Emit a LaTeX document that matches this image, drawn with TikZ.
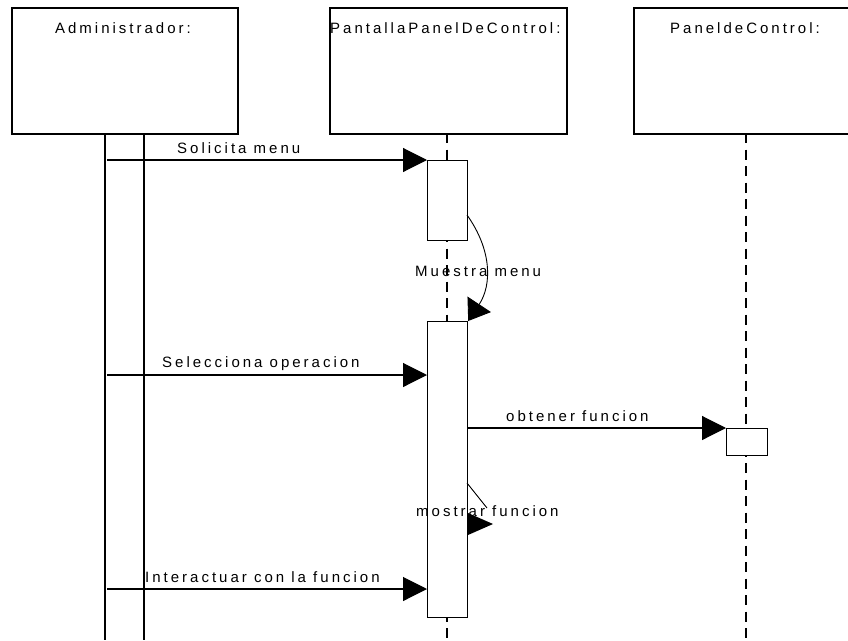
\documentclass[tikz,border=0pt]{standalone}
\usepackage{fontspec}
\setmainfont[LetterSpace=20]{Liberation Sans}
\usetikzlibrary{arrows.meta}
\begin{document}
\begin{tikzpicture}[x=1pt,y=-1pt,
  txt/.style={inner sep=0pt,font=\fontsize{15}{17}\selectfont},
  actor/.style={draw,line width=1.5pt,fill=white,inner sep=0pt,anchor=north west},
  activation/.style={draw,line width=1.2pt,fill=white,inner sep=0pt,anchor=north west},
  lifeline/.style={line width=1.2pt,dash pattern=on 10pt off 6.5pt},
  rail/.style={line width=1.4pt},
  msg/.style={line width=1.1pt,-{Triangle[length=24pt,width=24pt]}},
  selfmsg/.style={line width=0.9pt}]
\useasboundingbox (0,0) rectangle (848,640);
\clip (0,0) rectangle (848,640);
\fill[white] (0,0) rectangle (848,640);

% lifelines (drawn first, activations sit on top)
\draw[rail] (105,133) -- (105,640);
\draw[rail] (144,133) -- (144,640);
\draw[lifeline] (447,133) -- (447,640);
\draw[lifeline] (746,133) -- (746,640);

% object boxes
\node[actor,minimum width=226pt,minimum height=126pt] (admin) at (11,7) {};
\node[actor,minimum width=237pt,minimum height=126pt] (pantalla) at (329,7) {};
\node[actor,minimum width=226pt,minimum height=126pt] (panel) at (633,7) {};
\node[txt,anchor=base] (adminlbl) at (123,33) {Administrador:};
\node[txt,anchor=base west] (pantallalbl) at (330,33) {PantallaPanelDeControl:};
\node[txt,anchor=base] (panellbl) at (745,33) {PaneldeControl:};

% activation bars
\node[activation,minimum width=40pt,minimum height=80pt] (act1) at (427,160) {};
\node[activation,minimum width=40pt,minimum height=296pt] (act2) at (427,321) {};
\node[activation,minimum width=41pt,minimum height=27pt] (act3) at (726,428) {};

% message end points
\coordinate (s1) at (107,160);
\coordinate (s2) at (107,375);
\coordinate (t2) at (427,375);
\coordinate (o1) at (467,428);
\coordinate (s3) at (107,589);
\coordinate (t3) at (427,589);
\coordinate (m0) at (467,215);
\coordinate (f0) at (467,483);
\coordinate (f1) at (487,508);
\coordinate (fa) at (468,513);
\coordinate (fb) at (493,524);
\coordinate (fc) at (468,535);

% messages
\draw[msg] (s1) -- (act1.north west);
\node[txt,anchor=base west] (l1) at (177,153) {Solicita menu};

\draw[selfmsg,-{Triangle[length=20pt,width=28pt]}]
  (m0) .. controls (492,250) and (492,285) .. (act2.north east);
\node[txt,anchor=base west] (l2) at (415,276) {Muestra menu};

\draw[msg] (s2) -- (t2);
\node[txt,anchor=base west] (l3) at (162,367) {Selecciona operacion};

\draw[msg] (o1) -- (act3.north west);
\node[txt,anchor=base west] (l4) at (506,421) {obtener funcion};

\draw[selfmsg] (f0) -- (f1);
\fill (fa) -- (fb) -- (fc) -- cycle;
\node[txt,anchor=base west] (l5) at (416,516) {mostrar funcion};

\draw[msg] (s3) -- (t3);
\node[txt,anchor=base west] (l6) at (145,582) {Interactuar con la funcion};
\end{tikzpicture}
\end{document}
